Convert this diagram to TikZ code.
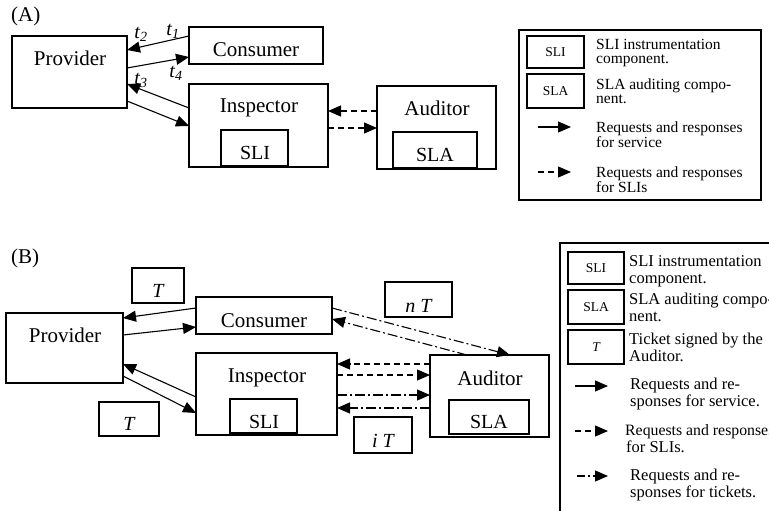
\documentclass[tikz,border=0pt]{standalone}
\usepackage{fontspec}
\setmainfont{Liberation Serif}
\usetikzlibrary{arrows.meta}
\tikzset{
  box/.style={draw, line width=1.1pt, rectangle, inner sep=0pt, outer sep=0pt},
  lbl/.style={inner sep=0pt, anchor=base, font=\fontsize{21}{24}\selectfont},
  tlbl/.style={inner sep=0pt, font=\fontsize{20}{22}\selectfont\itshape},
  tkt/.style={inner sep=0pt, anchor=base, font=\fontsize{20}{22}\selectfont\itshape},
  lgA/.style={inner sep=0pt, anchor=base west, font=\fontsize{15.5}{16}\selectfont},
  lgB/.style={inner sep=0pt, anchor=base west, font=\fontsize{16.5}{17}\selectfont},
  lsmall/.style={box, font=\fontsize{13.5}{14}\selectfont},
  conn/.style={line width=1.1pt, -{Triangle[length=13pt,width=11pt]}},
  dsh/.style={dash pattern=on 6pt off 4pt},
  dd/.style={dash pattern=on 10pt off 3pt on 2pt off 3pt},
}
\begin{document}
\begin{tikzpicture}[x=1pt,y=-1pt]
\useasboundingbox (0,0) rectangle (769,511);
\clip (0,0) rectangle (769,511);
\fill[white] (0,0) rectangle (769,511);

% ================= (A) =================
\node[lbl, anchor=base west] (labA) at (11,22) {(A)};
\node[box, minimum width=115pt, minimum height=72pt] (provA) at (69.5,72) {};
\node[lbl] (provAt) at (70,66) {Provider};
\node[box, minimum width=134pt, minimum height=37pt] (consA) at (256,45.5) {};
\node[lbl] (consAt) at (256,57) {Consumer};
\node[box, minimum width=139pt, minimum height=83pt] (inspA) at (258.5,125.5) {};
\node[lbl] (inspAt) at (259,113) {Inspector};
\node[box, minimum width=67pt, minimum height=36pt] (sliA) at (254.5,148) {};
\node[lbl, font=\fontsize{20}{22}\selectfont] (sliAt) at (255,159) {SLI};
\node[box, minimum width=119pt, minimum height=83pt] (audA) at (436.5,127.5) {};
\node[lbl] (audAt) at (437,115) {Auditor};
\node[box, minimum width=84pt, minimum height=36pt] (slaA) at (435,150) {};
\node[lbl, font=\fontsize{20}{22}\selectfont] (slaAt) at (435,161) {SLA};

\draw[conn] ([yshift=-9pt]consA.north west) -- ([yshift=-14pt]provA.north east);
\draw[conn] ([yshift=-32pt]provA.north east) -- ([yshift=-30pt]consA.north west);
\draw[conn] ([yshift=-24pt]inspA.north west) -- ([yshift=-48pt]provA.north east);
\draw[conn] ([yshift=-65pt]provA.north east) -- ([yshift=-42pt]inspA.north west);
\draw[conn, dsh] ([yshift=-25pt]audA.north west) -- ([yshift=-27pt]inspA.north east);
\draw[conn, dsh] ([yshift=-44pt]inspA.north east) -- ([yshift=-42pt]audA.north west);

\node[tlbl] (t1) at (173,31) {t\textsubscript{1}};
\node[tlbl] (t2) at (141,34) {t\textsubscript{2}};
\node[tlbl] (t3) at (141,80) {t\textsubscript{3}};
\node[tlbl] (t4) at (176,73) {t\textsubscript{4}};

% legend A
\node[box, minimum width=242pt, minimum height=170pt] (legA) at (640,115) {};
\node[lsmall, minimum width=57pt, minimum height=32pt] (lsliA) at (555.5,52) {SLI};
\node[lsmall, minimum width=57pt, minimum height=34pt] (lslaA) at (555.5,91) {SLA};
\node[lgA] (la1) at (596,50) {SLI instrumentation};
\node[lgA] (la2) at (596,64) {component.};
\node[lgA] (la3) at (596,89) {SLA auditing compo-};
\node[lgA] (la4) at (596,103) {nent.};
\node[lgA] (la5) at (596,132) {Requests and responses};
\node[lgA] (la6) at (596,147) {for service};
\node[lgA] (la7) at (596,177) {Requests and responses};
\node[lgA] (la8) at (596,192) {for SLIs};
\coordinate (lsA1) at (538,127); \coordinate (lsA2) at (571,127);
\coordinate (ldA1) at (538,172); \coordinate (ldA2) at (571,172);
\draw[conn] (lsA1) -- (lsA2);
\draw[conn, dsh] (ldA1) -- (ldA2);

% ================= (B) =================
\node[lbl, anchor=base west] (labB) at (11,263) {(B)};
\node[box, minimum width=117pt, minimum height=70pt] (provB) at (64.5,348) {};
\node[lbl] (provBt) at (65,342) {Provider};
\node[box, minimum width=136pt, minimum height=37pt] (consB) at (264,315.5) {};
\node[lbl] (consBt) at (264,327) {Consumer};
\node[box, minimum width=141pt, minimum height=82pt] (inspB) at (266.5,394) {};
\node[lbl] (inspBt) at (267,382) {Inspector};
\node[box, minimum width=67pt, minimum height=34pt] (sliB) at (263.5,416) {};
\node[lbl, font=\fontsize{20}{22}\selectfont] (sliBt) at (264,428) {SLI};
\node[box, minimum width=119pt, minimum height=82pt] (audB) at (489.5,396) {};
\node[lbl] (audBt) at (490,385) {Auditor};
\node[box, minimum width=80pt, minimum height=34pt] (slaB) at (489,417) {};
\node[lbl, font=\fontsize{20}{22}\selectfont] (slaBt) at (489,428) {SLA};

\node[box, minimum width=52pt, minimum height=35pt] (tTop) at (158,285.5) {};
\node[tkt] (tTopt) at (158,297) {T};
\node[box, minimum width=60pt, minimum height=34pt] (tBot) at (129,419) {};
\node[tkt] (tBott) at (129,430) {T};
\node[box, minimum width=67pt, minimum height=35pt] (nT) at (418.5,299.5) {};
\node[tkt] (nTt) at (418.5,312) {n T};
\node[box, minimum width=58pt, minimum height=36pt] (iT) at (383,435) {};
\node[tkt] (iTt) at (383,447) {i T};

\draw[conn] ([yshift=-11pt]consB.north west) -- ([yshift=-5pt]provB.north east);
\draw[conn] ([yshift=-22pt]provB.north east) -- ([yshift=-30pt]consB.north west);
\draw[conn] ([yshift=-44pt]inspB.north west) -- ([yshift=-51pt]provB.north east);
\draw[conn] ([yshift=-63pt]provB.north east) -- ([yshift=-60pt]inspB.north west);
\draw[conn, dd] ([yshift=-11pt]consB.north east) -- ([xshift=80pt]audB.north west);
\draw[conn, dd] ([xshift=37pt]audB.north west) -- ([yshift=-22pt]consB.north east);
\draw[conn, dsh] ([yshift=-9pt]audB.north west) -- ([yshift=-11pt]inspB.north east);
\draw[conn, dsh] ([yshift=-22pt]inspB.north east) -- ([yshift=-20pt]audB.north west);
\draw[conn, dd] ([yshift=-42pt]inspB.north east) -- ([yshift=-40pt]audB.north west);
\draw[conn, dd] ([yshift=-53pt]audB.north west) -- ([yshift=-55pt]inspB.north east);

% legend B
\node[box, minimum width=240pt, minimum height=300pt] (legB) at (680,393) {};
\node[lsmall, minimum width=56pt, minimum height=32pt] (lsliB) at (596,268) {SLI};
\node[lsmall, minimum width=56pt, minimum height=34pt] (lslaB) at (596,307) {SLA};
\node[lsmall, minimum width=56pt, minimum height=34pt, font=\fontsize{13.5}{14}\selectfont\itshape] (lTB) at (596,347) {T};
\node[lgB] (lb1) at (629,266) {SLI instrumentation};
\node[lgB] (lb2) at (629,283) {component.};
\node[lgB] (lb3) at (629,304) {SLA auditing compo-};
\node[lgB] (lb4) at (629,321) {nent.};
\node[lgB] (lb5) at (629,344) {Ticket signed by the};
\node[lgB] (lb6) at (629,361) {Auditor.};
\node[lgB] (lb7) at (630,389) {Requests and re-};
\node[lgB] (lb8) at (630,406) {sponses for service.};
\node[lgB, font=\fontsize{15.8}{17}\selectfont] (lb9) at (625,435) {Requests and responses};
\node[lgB] (lb10) at (626,452) {for SLIs.};
\node[lgB] (lb11) at (630,480) {Requests and re-};
\node[lgB] (lb12) at (630,497) {sponses for tickets.};
\coordinate (lsB1) at (575,386); \coordinate (lsB2) at (608,386);
\coordinate (ldB1) at (575,431); \coordinate (ldB2) at (608,431);
\coordinate (lddB1) at (577,476); \coordinate (lddB2) at (608,476);
\draw[conn] (lsB1) -- (lsB2);
\draw[conn, dsh] (ldB1) -- (ldB2);
\draw[conn, dash pattern=on 8pt off 3pt on 2pt off 3pt] (lddB1) -- (lddB2);
\end{tikzpicture}
\end{document}
